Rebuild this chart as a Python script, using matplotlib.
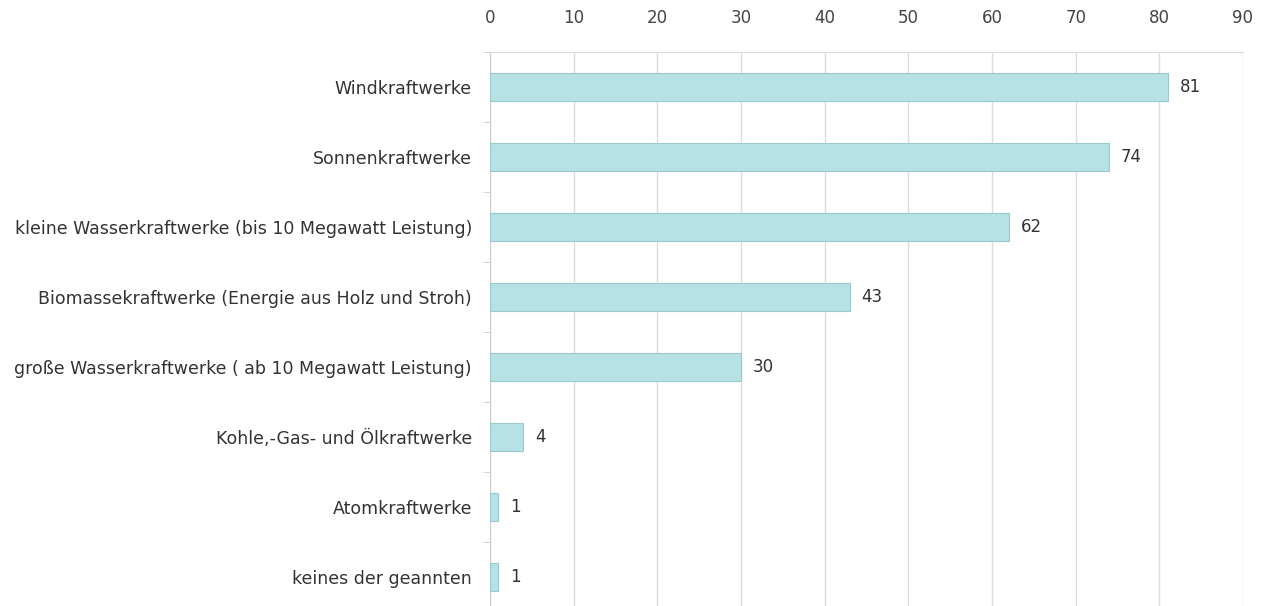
import matplotlib.pyplot as plt
import numpy as np

plt.rcParams['font.family'] = ['DejaVu Sans']

categories = ['Windkraftwerke', 'Sonnenkraftwerke',
              'kleine Wasserkraftwerke (bis 10 Megawatt Leistung)',
              'Biomassekraftwerke (Energie aus Holz und Stroh)',
              'große Wasserkraftwerke ( ab 10 Megawatt Leistung)',
              'Kohle,-Gas- und Ölkraftwerke', 'Atomkraftwerke',
              'keines der geannten']
values = [81, 74, 62, 43, 30, 4, 1, 1]
xticks = [0, 10, 20, 30, 40, 50, 60, 70, 80, 90]

fig = plt.figure(figsize=(12.68, 6.06), dpi=100)
ax = fig.add_axes([490 / 1268, -6 / 606, 753 / 1268, 560 / 606])

y = np.arange(len(categories))
ax.barh(y, values, height=0.4, color='#b6e1e5', edgecolor='#9cc9cd',
        linewidth=0.8, zorder=3)

for yi, v in zip(y, values):
    ax.text(v + 1.4, yi, str(v), va='center', ha='left', fontsize=12,
            color='#333333')

ax.set_xlim(0, 90)
ax.set_ylim(len(categories) - 0.5, -0.5)
ax.set_xticks(xticks)
ax.xaxis.tick_top()
ax.tick_params(axis='x', length=0, pad=18, labelsize=12, labelcolor='#444444')
ax.set_yticks(y)
ax.set_yticklabels(categories)
ax.tick_params(axis='y', length=0, pad=13, labelsize=12.5, labelcolor='#333333')
ax.set_yticks(np.arange(len(categories)) - 0.5, minor=True)
ax.tick_params(axis='y', which='minor', length=5, color='#cccccc')

ax.grid(axis='x', color='#dddddd', linewidth=1, zorder=0)
for s in ['right', 'bottom']:
    ax.spines[s].set_visible(False)
ax.spines['top'].set_color('#dddddd')
ax.spines['left'].set_color('#cccccc')

fig.savefig('out.png', dpi=100)
